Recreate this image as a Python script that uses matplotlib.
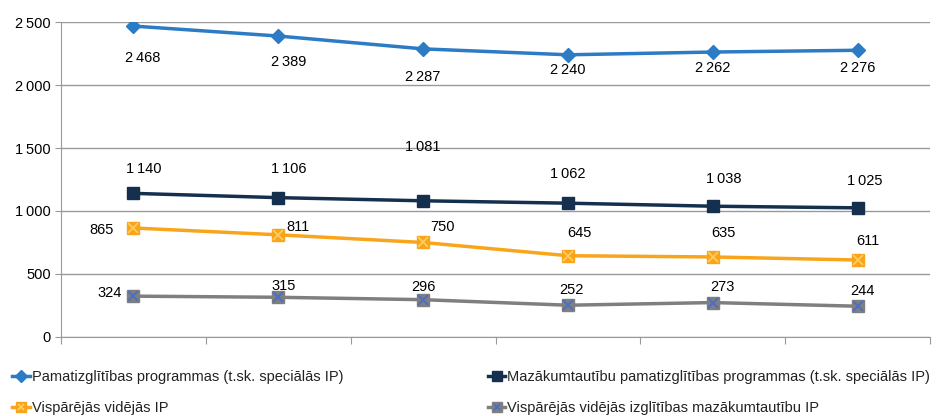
import matplotlib.pyplot as plt
import matplotlib.lines as mlines
from matplotlib.ticker import FuncFormatter

plt.rcParams['font.family'] = ['Liberation Sans', 'DejaVu Sans']

years = ['1', '2', '3', '4', '5', '6']
pamat = [2468, 2389, 2287, 2240, 2262, 2276]
mazak = [1140, 1106, 1081, 1062, 1038, 1025]
vidm = [865, 811, 750, 645, 635, 611]
vidm_mazak = [324, 315, 296, 252, 273, 244]

names = ['Pamatizglītības programmas (t.sk. speciālās IP)',
         'Mazākumtautību pamatizglītības programmas (t.sk. speciālās IP)',
         'Vispārējās vidējās IP',
         'Vispārējās vidējās izglītības mazākumtautību IP']

# label offsets in pixels (dx, dy)
off_pamat = [(9, -32), (10, -26), (0, -28), (0, -15), (0, -16), (0, -18)]
off_mazak = [(10, 24), (10, 29), (0, 54), (0, 29), (11, 27), (7, 27)]
off_vidm = [(-32, -2), (20, 8), (19, 15), (11, 23), (11, 24), (10, 19)]
off_vm = [(-24, 3), (5, 11), (0, 13), (3, 15), (10, 16), (5, 15)]

fig = plt.figure(figsize=(9.39, 4.16), dpi=100)
ax = fig.add_axes([0.065, 0.19, 0.9255, 0.757])

x = list(range(len(years)))
l1, = ax.plot(x, pamat, color='#2C7BC5', lw=2.5, marker='D', ms=7.5, zorder=4)
l2, = ax.plot(x, mazak, color='#152F4E', lw=2.5, marker='s', ms=8.5, zorder=4)
l3, = ax.plot(x, vidm, color='#F9A51B', lw=2.5, marker='s', ms=8.5, zorder=4)
ax.plot(x, vidm, ls='none', marker='x', ms=7, mew=1.2, color='#FFD060', zorder=5)
l4, = ax.plot(x, vidm_mazak, color='#7F7F7F', lw=2.5, marker='s', ms=8.5, zorder=4)
ax.plot(x, vidm_mazak, ls='none', marker='x', ms=7, mew=1.4, color='#4A6FC4', zorder=5)

for vals, offs in [(pamat, off_pamat), (mazak, off_mazak), (vidm, off_vidm), (vidm_mazak, off_vm)]:
    for i, v in enumerate(vals):
        ax.annotate(f'{v:,}'.replace(',', '\u2009'), (i, v), xytext=offs[i], textcoords='offset pixels',
                    ha='center', va='center', fontsize=10.5, color='black')

ax.set_xlim(-0.5, len(years) - 0.5)
ax.set_ylim(0, 2500)
ax.set_yticks(range(0, 2501, 500))
ax.yaxis.set_major_formatter(FuncFormatter(lambda v, p: f'{int(v):,}'.replace(',', '\u2009')))
ax.set_xticks([i - 0.5 for i in range(len(years) + 1)])
ax.set_xticklabels([])
ax.tick_params(axis='x', length=5, color='#999999', direction='out')
ax.tick_params(axis='y', length=4, color='#999999', labelsize=10.5)
ax.grid(axis='y', color='#999999', lw=1)
ax.set_axisbelow(True)
for s in ['top', 'right']:
    ax.spines[s].set_visible(False)
for s in ['left', 'bottom']:
    ax.spines[s].set_color('#999999')

h3 = (l3, mlines.Line2D([], [], ls='none', marker='x', ms=5.5, mew=1.2, color='#FFD060'))
h4 = (l4, mlines.Line2D([], [], ls='none', marker='x', ms=5.5, mew=1.4, color='#4A6FC4'))
leg = fig.legend([l1, h3, l2, h4], [names[0], names[2], names[1], names[3]], ncol=2,
                 loc='upper left', bbox_to_anchor=(0.013, 0.11), frameon=False,
                 borderpad=0, borderaxespad=0,
                 fontsize=10.5, handlelength=1.2, handletextpad=0.15, columnspacing=9.9,
                 labelspacing=1.15, markerscale=0.8)
for t in leg.get_texts():
    t.set_color('#222222')

fig.savefig('out.png', dpi=100)
